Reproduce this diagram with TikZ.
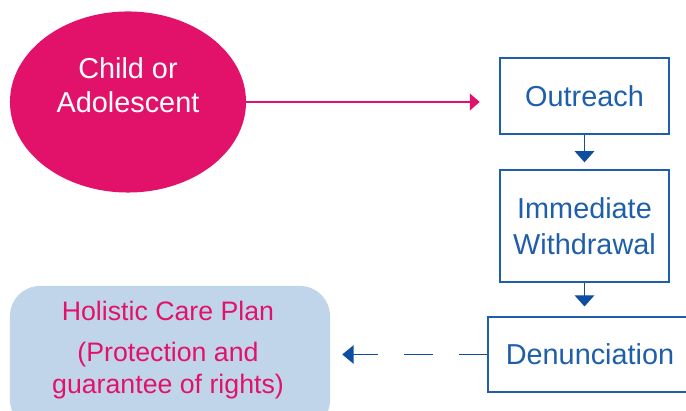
\documentclass[tikz,border=0pt]{standalone}
\usepackage{fontspec}
\setmainfont{Liberation Sans}
\usepackage{tikz}
\usetikzlibrary{positioning}
\usetikzlibrary{arrows.meta,shapes}
\definecolor{rosepink}{HTML}{E2126B}
\definecolor{stepblue}{HTML}{1F5FAA}
\definecolor{arrowblue}{HTML}{0D4F9E}
\definecolor{planblue}{HTML}{C0D5EA}
\tikzstyle{childnode}=[ellipse,fill=rosepink,draw=none,minimum width=5.9cm,minimum height=4.525cm,inner sep=0pt]
\tikzstyle{stepbox}=[rectangle,draw=stepblue,line width=0.9pt,fill=white,text=stepblue,align=center,inner sep=0pt,font=\fontsize{20.5}{25.5}\selectfont]
\tikzstyle{planbox}=[rectangle,rounded corners=0.75cm,fill=planblue,draw=none,minimum width=8cm,minimum height=3.6cm]
\tikzstyle{pinkedge} = [draw,rosepink,line width=1pt,-{Triangle[length=7pt,width=12pt]},shorten >=14pt]
\tikzstyle{blueedge} = [draw,arrowblue,line width=1pt,-{Triangle[length=8pt,width=14pt]}]

\begin{document}
\begin{tikzpicture}[x=0.025cm,y=-0.025cm]
  \path[use as bounding box,clip] (0,0) rectangle (686,411);

  % child and plan
  \node[childnode] (child) at (128,102) {};
  \node[text=white,align=center,font=\fontsize{20.5}{24.5}\selectfont] (childtext) at (128,85) {Child or\\Adolescent};
  \node[planbox] (plan) at (170,358) {};
  \node[text=rosepink,align=center,font=\fontsize{19}{23}\selectfont] (plantext) at (168,350)
    {Holistic Care Plan\\[6pt](Protection and\\guarantee of rights)};

  % the three steps
  \foreach \pos/\name/\boxw/\boxh/\label in {{(584.5,96)/outreach/4.225/1.9/Outreach},
      {(584.5,226)/withdrawal/4.225/2.8/{Immediate\\Withdrawal}},
      {(590,354.5)/denunciation/5.1/1.875/Denunciation}}
    \node[stepbox,minimum width=\boxw cm,minimum height=\boxh cm] (\name) at \pos {\label};

  % connectors
  \path[pinkedge] (child.east) -- (outreach.west |- child.east);
  \path[blueedge,shorten >=5pt] (outreach.south) -- (withdrawal.north);
  \path[blueedge,shorten >=7pt] (withdrawal.south) -- (withdrawal.south |- denunciation.north);
  \path[blueedge,-{Triangle[length=8pt,width=13pt]},dash pattern=on 20pt off 19pt,shorten >=8.5pt]
    (denunciation.west) -- (plan.east |- denunciation.west);
\end{tikzpicture}
\end{document}
